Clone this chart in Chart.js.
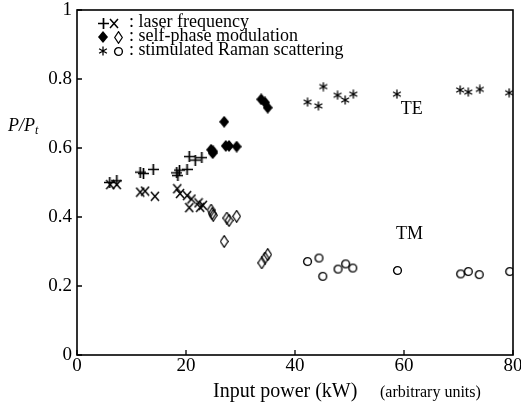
<!DOCTYPE html>
<html><head><meta charset="utf-8">
<script src="https://cdn.jsdelivr.net/npm/chart.js@4/dist/chart.umd.min.js"></script>
<style>html,body{margin:0;padding:0;background:#fff;}canvas{display:block;}</style>
</head><body>
<canvas id="c" width="521" height="407"></canvas>
<script>
// ---- data ----
const xTicks = [0, 20, 40, 60, 80];
const yTicks = [0, 0.2, 0.4, 0.6, 0.8, 1];

const laserTEx = [6.0, 7.3, 11.6, 12.2, 14.0, 18.3, 18.5, 18.8, 20.2, 20.6, 21.7, 22.9];
const laserTEy = [0.500, 0.505, 0.530, 0.526, 0.538, 0.528, 0.520, 0.536, 0.538, 0.575, 0.565, 0.572];
const laserTMx = [6.1, 7.3, 11.6, 12.5, 14.3, 18.4, 18.9, 20.2, 21.0, 20.6, 22.3, 22.6, 23.1];
const laserTMy = [0.494, 0.494, 0.472, 0.475, 0.460, 0.482, 0.468, 0.462, 0.452, 0.427, 0.441, 0.428, 0.434];
const spmTEx = [24.6, 24.9, 25.0, 27.0, 27.3, 27.9, 29.3, 33.8, 34.5, 35.0];
const spmTEy = [0.595, 0.585, 0.590, 0.676, 0.606, 0.606, 0.604, 0.741, 0.732, 0.717];
const spmTMx = [24.6, 24.8, 25.0, 27.5, 27.9, 29.3, 27.0, 33.9, 34.5, 35.0];
const spmTMy = [0.420, 0.410, 0.405, 0.397, 0.390, 0.402, 0.329, 0.267, 0.281, 0.291];
const ramanTEx = [42.3, 44.3, 45.2, 47.8, 49.2, 50.7, 58.7, 70.3, 71.8, 73.9, 79.3];
const ramanTEy = [0.733, 0.722, 0.778, 0.753, 0.739, 0.756, 0.756, 0.768, 0.762, 0.770, 0.760];
const ramanTMx = [42.3, 44.4, 45.1, 47.9, 49.3, 50.6, 58.8, 70.4, 71.8, 73.8, 79.4];
const ramanTMy = [0.271, 0.281, 0.228, 0.249, 0.264, 0.252, 0.245, 0.235, 0.242, 0.233, 0.242];

const legendLabels = [': laser frequency', ': self-phase modulation', ': stimulated Raman scattering'];
const modeLabels = ['TE', 'TM'];
const modeLabelAt = [[61.4, 0.712], [61.0, 0.349]];

// ---- markers ----
function marker(kind){
  const S = {plus:[11,11], cross:[10,11], dfill:[10,12], dopen:[9,13], star:[10,10], circle:[11,11]}[kind];
  const c = document.createElement('canvas');
  c.width = S[0]; c.height = S[1];
  const g = c.getContext('2d');
  const w = S[0], h = S[1], cx = w/2, cy = h/2;
  g.strokeStyle = '#000'; g.fillStyle = '#000'; g.lineWidth = 1.7;
  g.beginPath();
  if (kind === 'plus') { g.moveTo(0,cy); g.lineTo(w,cy); g.moveTo(cx,0); g.lineTo(cx,h); g.stroke(); }
  else if (kind === 'cross') { g.lineWidth = 1.5; g.moveTo(1,1); g.lineTo(w-1,h-1); g.moveTo(w-1,1); g.lineTo(1,h-1); g.stroke(); }
  else if (kind === 'dfill') { g.moveTo(cx,0); g.lineTo(w,cy); g.lineTo(cx,h); g.lineTo(0,cy); g.closePath(); g.fill(); }
  else if (kind === 'dopen') { g.lineWidth = 1.2; g.moveTo(cx,0.7); g.lineTo(w-0.7,cy); g.lineTo(cx,h-0.7); g.lineTo(0.7,cy); g.closePath(); g.stroke(); }
  else if (kind === 'star') { g.lineWidth = 1.3; for (const a of [90,30,150]) { const r = a*Math.PI/180; g.moveTo(cx-4.5*Math.cos(r), cy-4.5*Math.sin(r)); g.lineTo(cx+4.5*Math.cos(r), cy+4.5*Math.sin(r)); } g.stroke(); }
  else if (kind === 'circle') { g.lineWidth = 1.4; g.arc(cx,cy,3.9,0,2*Math.PI); g.stroke(); }
  return c;
}
const M = {plus:marker('plus'), cross:marker('cross'), dfill:marker('dfill'), dopen:marker('dopen'), star:marker('star'), circle:marker('circle')};

function pts(xs, ys){ return xs.map((v,i) => ({x:v, y:ys[i]})); }
function ds(label, xs, ys, style){
  return {label, data: pts(xs, ys), pointStyle: style, pointRadius: 5, showLine: false};
}

const FONT = '"Liberation Serif", "Times New Roman", serif';
Chart.defaults.font.family = FONT;
Chart.defaults.color = '#000';

const deco = {
  id: 'deco',
  afterDraw(chart){
    const {ctx, chartArea:a, scales:{x, y}} = chart;
    ctx.save();
    ctx.strokeStyle = '#000'; ctx.lineWidth = 1.6;
    ctx.strokeRect(a.left, a.top, a.right-a.left, a.bottom-a.top);
    ctx.lineWidth = 1.3;
    ctx.beginPath();
    xTicks.forEach(v => { const p = x.getPixelForValue(v); ctx.moveTo(p, a.bottom); ctx.lineTo(p, a.bottom-5); });
    yTicks.forEach(v => { const p = y.getPixelForValue(v); ctx.moveTo(a.left, p); ctx.lineTo(a.left+5, p); });
    ctx.stroke();
    ctx.fillStyle = '#000';
    ctx.textBaseline = 'alphabetic'; ctx.textAlign = 'left';
    ctx.font = '20px ' + FONT;
    ctx.fillText('Input power (kW)', 213, 397);
    ctx.font = '16px ' + FONT;
    ctx.fillText('(arbitrary units)', 380, 397);
    ctx.font = 'italic 18px ' + FONT;
    ctx.fillText('P/P', 8, 131);
    const w = ctx.measureText('P/P').width;
    ctx.font = 'italic 12px ' + FONT;
    ctx.fillText('t', 8 + w, 134);
    // mode labels
    ctx.font = '18px ' + FONT; ctx.textAlign = 'center'; ctx.textBaseline = 'middle';
    modeLabels.forEach((t,i) => ctx.fillText(t, x.getPixelForValue(modeLabelAt[i][0]), y.getPixelForValue(modeLabelAt[i][1])));
    // legend
    const rows = [[M.plus, M.cross, 23, 27], [M.dfill, M.dopen, 37, 41], [M.star, M.circle, 51, 55]];
    ctx.textAlign = 'left'; ctx.textBaseline = 'alphabetic';
    ctx.font = '18px ' + FONT;
    rows.forEach((r,i) => {
      ctx.drawImage(r[0], Math.round(103 - r[0].width/2), Math.round(r[2] - r[0].height/2));
      ctx.drawImage(r[1], Math.round((i===0?114:118) - r[1].width/2), Math.round(r[2] - r[1].height/2));
      ctx.fillText(legendLabels[i], 129, r[3]);
    });
    ctx.restore();
  }
};

new Chart(document.getElementById('c'), {
  type: 'scatter',
  data: { datasets: [
    ds('laser TE', laserTEx, laserTEy, M.plus),
    ds('laser TM', laserTMx, laserTMy, M.cross),
    ds('SPM TE', spmTEx, spmTEy, M.dfill),
    ds('SPM TM', spmTMx, spmTMy, M.dopen),
    ds('Raman TE', ramanTEx, ramanTEy, M.star),
    ds('Raman TM', ramanTMx, ramanTMy, M.circle)
  ]},
  options: {
    responsive: false, animation: false, devicePixelRatio: 1,
    layout: { padding: { left: 0, right: 8, top: 10, bottom: 0 } },
    plugins: { legend: { display: false }, tooltip: { enabled: false } },
    events: [],
    scales: {
      x: {
        type: 'linear', min: 0, max: 80,
        afterBuildTicks: s => { s.ticks = xTicks.map(v => ({value: v})); },
        afterFit: s => { s.height = 52; s.paddingLeft = 0; s.paddingRight = 0; },
        grid: { display: false, drawTicks: false },
        border: { display: false },
        ticks: { font: { size: 19 }, color: '#000', padding: 0, maxRotation: 0, callback: v => String(v) }
      },
      y: {
        type: 'linear', min: 0, max: 1,
        afterBuildTicks: s => { s.ticks = yTicks.map(v => ({value: v})); },
        afterFit: s => { s.width = 77; s.paddingTop = 0; s.paddingBottom = 0; },
        grid: { display: false, drawTicks: false },
        border: { display: false },
        ticks: { font: { size: 19 }, color: '#000', padding: 5, callback: v => String(v) }
      }
    }
  },
  plugins: [deco]
});
</script>
</body></html>
